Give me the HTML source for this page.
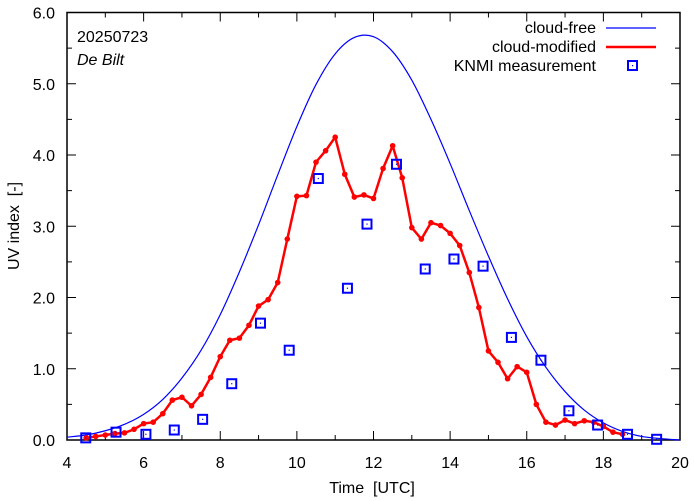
<!DOCTYPE html>
<html><head><meta charset="utf-8"><style>
body{margin:0;background:#fff}
svg{display:block;font-family:"Liberation Sans",sans-serif}
text{white-space:pre}
</style></head><body>
<svg id="chart" width="694" height="501">
<g id="axes"></g>
<g id="series"></g>
<text x="77" y="42" font-size="16">20250723</text>
<text x="77" y="65" font-size="16" font-style="italic">De Bilt</text>
<g>
<g><text x="596" y="33" font-size="16" text-anchor="end">cloud-free</text><line x1="606" y1="28" x2="656" y2="28" stroke="#0000ff" stroke-width="1.2"/></g>
<g><text x="596" y="52" font-size="16" text-anchor="end">cloud-modified</text><line x1="606" y1="47" x2="656" y2="47" stroke="#ff0000" stroke-width="2.5"/></g>
<g><text x="596" y="71" font-size="16" text-anchor="end">KNMI measurement</text><rect x="628" y="61" width="9" height="9" fill="none" stroke="#0000ff" stroke-width="2"/><rect x="632" y="65" width="1.2" height="1.2" fill="#0000ff"/></g>
</g>
<text x="372" y="493" font-size="16" text-anchor="middle">Time&#160;&#160;[UTC]</text>
<text transform="translate(19,226) rotate(-90)" font-size="16" text-anchor="middle">UV index&#160;&#160;[-]</text>
</svg>
<script>
const clearTimes=[4,4.5,5,5.5,6,6.5,7,7.5,8,8.5,9,9.5,10,10.5,11,11.5,12,12.5,13,13.5,14,14.5,15,15.5,16,16.5,17,17.5,18,18.5,19,19.5,20];
const clearValues=[0.04,0.07,0.13,0.22,0.36,0.57,0.87,1.26,1.76,2.36,3.02,3.72,4.40,4.99,5.42,5.65,5.66,5.45,5.05,4.5,3.88,3.22,2.58,1.98,1.45,1.02,0.68,0.42,0.24,0.12,0.05,0.02,0.0];
const cloudStart=4.5, cloudStep=0.25;
const cloudValues=[0.03,0.05,0.07,0.09,0.10,0.15,0.23,0.25,0.37,0.56,0.60,0.48,0.64,0.88,1.17,1.40,1.43,1.61,1.88,1.97,2.21,2.82,3.42,3.43,3.90,4.06,4.25,3.73,3.41,3.44,3.39,
3.81,4.13,3.68,2.98,2.82,3.05,3.01,2.90,2.73,2.35,1.86,1.25,1.09,0.86,1.03,0.95,0.50,0.25,0.21,0.28,0.23,0.27,0.25,0.19,0.11,0.08];
const knmiTimes=[4.49,5.28,6.06,6.8,7.54,8.3,9.05,9.8,10.56,11.32,11.83,12.6,13.35,14.1,14.86,15.6,16.37,17.1,17.85,18.63,19.39];
const knmiValues=[0.03,0.11,0.08,0.14,0.29,0.79,1.64,1.26,3.67,2.13,3.03,3.87,2.40,2.54,2.44,1.44,1.12,0.41,0.21,0.08,0.01];
const xTicks=[4,6,8,10,12,14,16,18,20];
const yTicks=["0.0","1.0","2.0","3.0","4.0","5.0","6.0"];

const L=67,R=680,T=12.5,B=440;
const X=t=>L+(t-4)/16*(R-L);
const Y=v=>B-v/6*(B-T);
const NS="http://www.w3.org/2000/svg";
function mk(tag,attrs,parent){const e=document.createElementNS(NS,tag);for(const k in attrs)e.setAttribute(k,attrs[k]);parent.appendChild(e);return e;}
const ax=document.getElementById('axes'), se=document.getElementById('series');
const frame=mk('rect',{x:L,y:T,width:R-L,height:B-T,fill:'none',stroke:'#000','stroke-width':1.5},ax);


for(let h=4;h<=20;h++){const x=X(h);const len=(h%2===0)?9:5;
 mk('line',{x1:x,y1:B,x2:x,y2:B-len,stroke:'#000'},ax);mk('line',{x1:x,y1:T,x2:x,y2:T+len,stroke:'#000'},ax);}
for(let i=0;i<=12;i++){const y=Y(i*0.5);const len=(i%2===0)?9:5;
 mk('line',{x1:L,y1:y,x2:L+len,y2:y,stroke:'#000'},ax);mk('line',{x1:R,y1:y,x2:R-len,y2:y,stroke:'#000'},ax);}
xTicks.forEach(t=>{const e=mk('text',{x:X(t),y:468,'font-size':16,'text-anchor':'middle'},ax);e.textContent=t;
 
 });
yTicks.forEach(s=>{const e=mk('text',{x:55,y:Y(parseFloat(s))+6,'font-size':16,'text-anchor':'end'},ax);e.textContent=s;
 
 });
const pts=clearTimes.map((t,i)=>[X(t),Y(clearValues[i])]);
let d='M'+pts[0][0]+','+pts[0][1];
for(let i=0;i<pts.length-1;i++){const p0=pts[Math.max(i-1,0)],p1=pts[i],p2=pts[i+1],p3=pts[Math.min(i+2,pts.length-1)];
 d+=` C${p1[0]+(p2[0]-p0[0])/6},${p1[1]+(p2[1]-p0[1])/6} ${p2[0]-(p3[0]-p1[0])/6},${p2[1]-(p3[1]-p1[1])/6} ${p2[0]},${p2[1]}`;}
const cf=mk('path',{d:d,fill:'none',stroke:'#0000ff','stroke-width':1.2},se);


const cpts=cloudValues.map((v,i)=>[X(cloudStart+i*cloudStep),Y(v)]);
const cm=mk('polyline',{points:cpts.map(p=>p.join(',')).join(' '),fill:'none',stroke:'#ff0000','stroke-width':2.5,'stroke-linejoin':'round'},se);


cpts.forEach(p=>{const c=mk('circle',{cx:p[0],cy:p[1],r:2.8,fill:'#ff0000'},se);
 
 });
knmiTimes.forEach((t,i)=>{const x=X(t),y=Y(knmiValues[i]);
 const r=mk('rect',{x:x-4.5,y:y-4.5,width:9,height:9,fill:'none',stroke:'#0000ff','stroke-width':2},se);
 
 
 mk('rect',{x:x-0.6,y:y-0.6,width:1.2,height:1.2,fill:'#0000ff'},se);});
</script>
</body></html>
